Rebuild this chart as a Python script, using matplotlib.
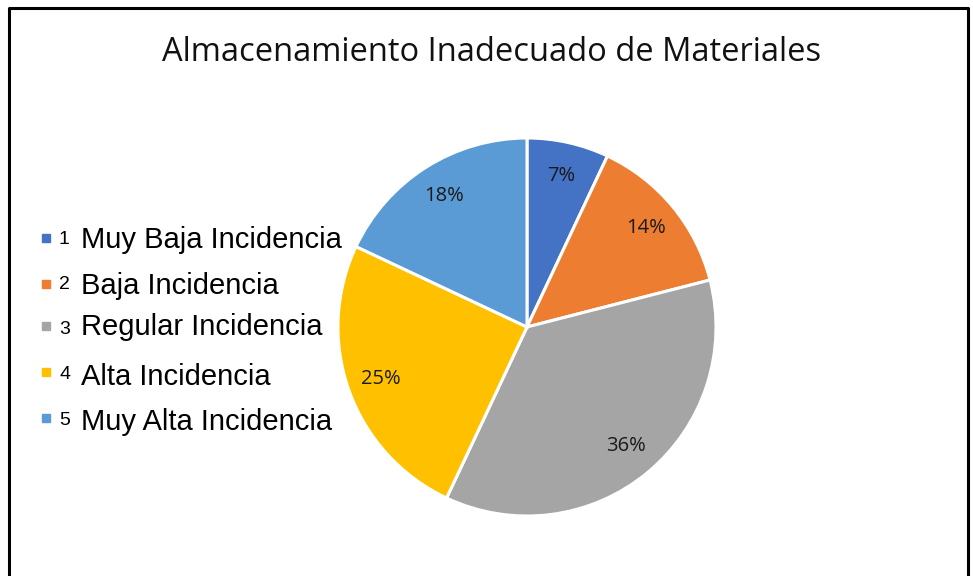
import matplotlib.pyplot as plt
from matplotlib.patches import Rectangle

# data
nums = ['1', '2', '3', '4', '5']
labels = ['Muy Baja Incidencia', 'Baja Incidencia', 'Regular Incidencia',
          'Alta Incidencia', 'Muy Alta Incidencia']
values = [7, 14, 36, 25, 18]
colors = ['#4472C4', '#ED7D31', '#A5A5A5', '#FFC000', '#5B9BD5']

W, H = 973, 576
fig = plt.figure(figsize=(W / 100, H / 100), dpi=100)

# pie: center (527, 327), radius 189 px
cx, cy, r = 527, 327, 189
ax = fig.add_axes([(cx - r) / W, 1 - (cy + r) / H, 2 * r / W, 2 * r / H])
wedges, texts, autotexts = ax.pie(
    values, colors=colors, startangle=90, counterclock=False,
    autopct='%1.0f%%', pctdistance=0.82, radius=1.0,
    wedgeprops=dict(edgecolor='white', linewidth=2.2),
    textprops=dict(fontsize=14.5, family='Open Sans', color='#1a1a1a'))
ax.set_xlim(-1, 1)
ax.set_ylim(-1, 1)
ax.set_aspect('equal')
ax.axis('off')

# title
fig.text(492 / W, 1 - 61 / H, 'Almacenamiento Inadecuado de Materiales',
         ha='center', va='baseline', fontsize=23.5, family='Open Sans', color='#111111')

# legend, drawn by hand (pixel rows: square centre, number baseline, label baseline)
sq_y = [238, 283.5, 326, 372, 418]
num_base = [244, 289, 334, 379, 425]
lab_base = [248, 294, 335, 385, 430]
for i in range(len(labels)):
    fig.patches.append(Rectangle((42 / W, 1 - (sq_y[i] + 4) / H), 8 / W, 8 / H,
                                 transform=fig.transFigure, color=colors[i]))
    fig.text(59 / W, 1 - num_base[i] / H, nums[i], ha='left', va='baseline',
             fontsize=14, family='Liberation Sans', color='black')
    fig.text(81 / W, 1 - lab_base[i] / H, labels[i], ha='left', va='baseline',
             fontsize=21, family='Liberation Sans', color='black')

# outer frame (top, left, right only visible)
fig.lines.append(plt.Line2D([9 / W, 9 / W, 968 / W, 968 / W],
                            [0, 1 - 8 / H, 1 - 8 / H, 0],
                            transform=fig.transFigure, color='black', linewidth=2.2))

fig.savefig('out.png', dpi=100)
